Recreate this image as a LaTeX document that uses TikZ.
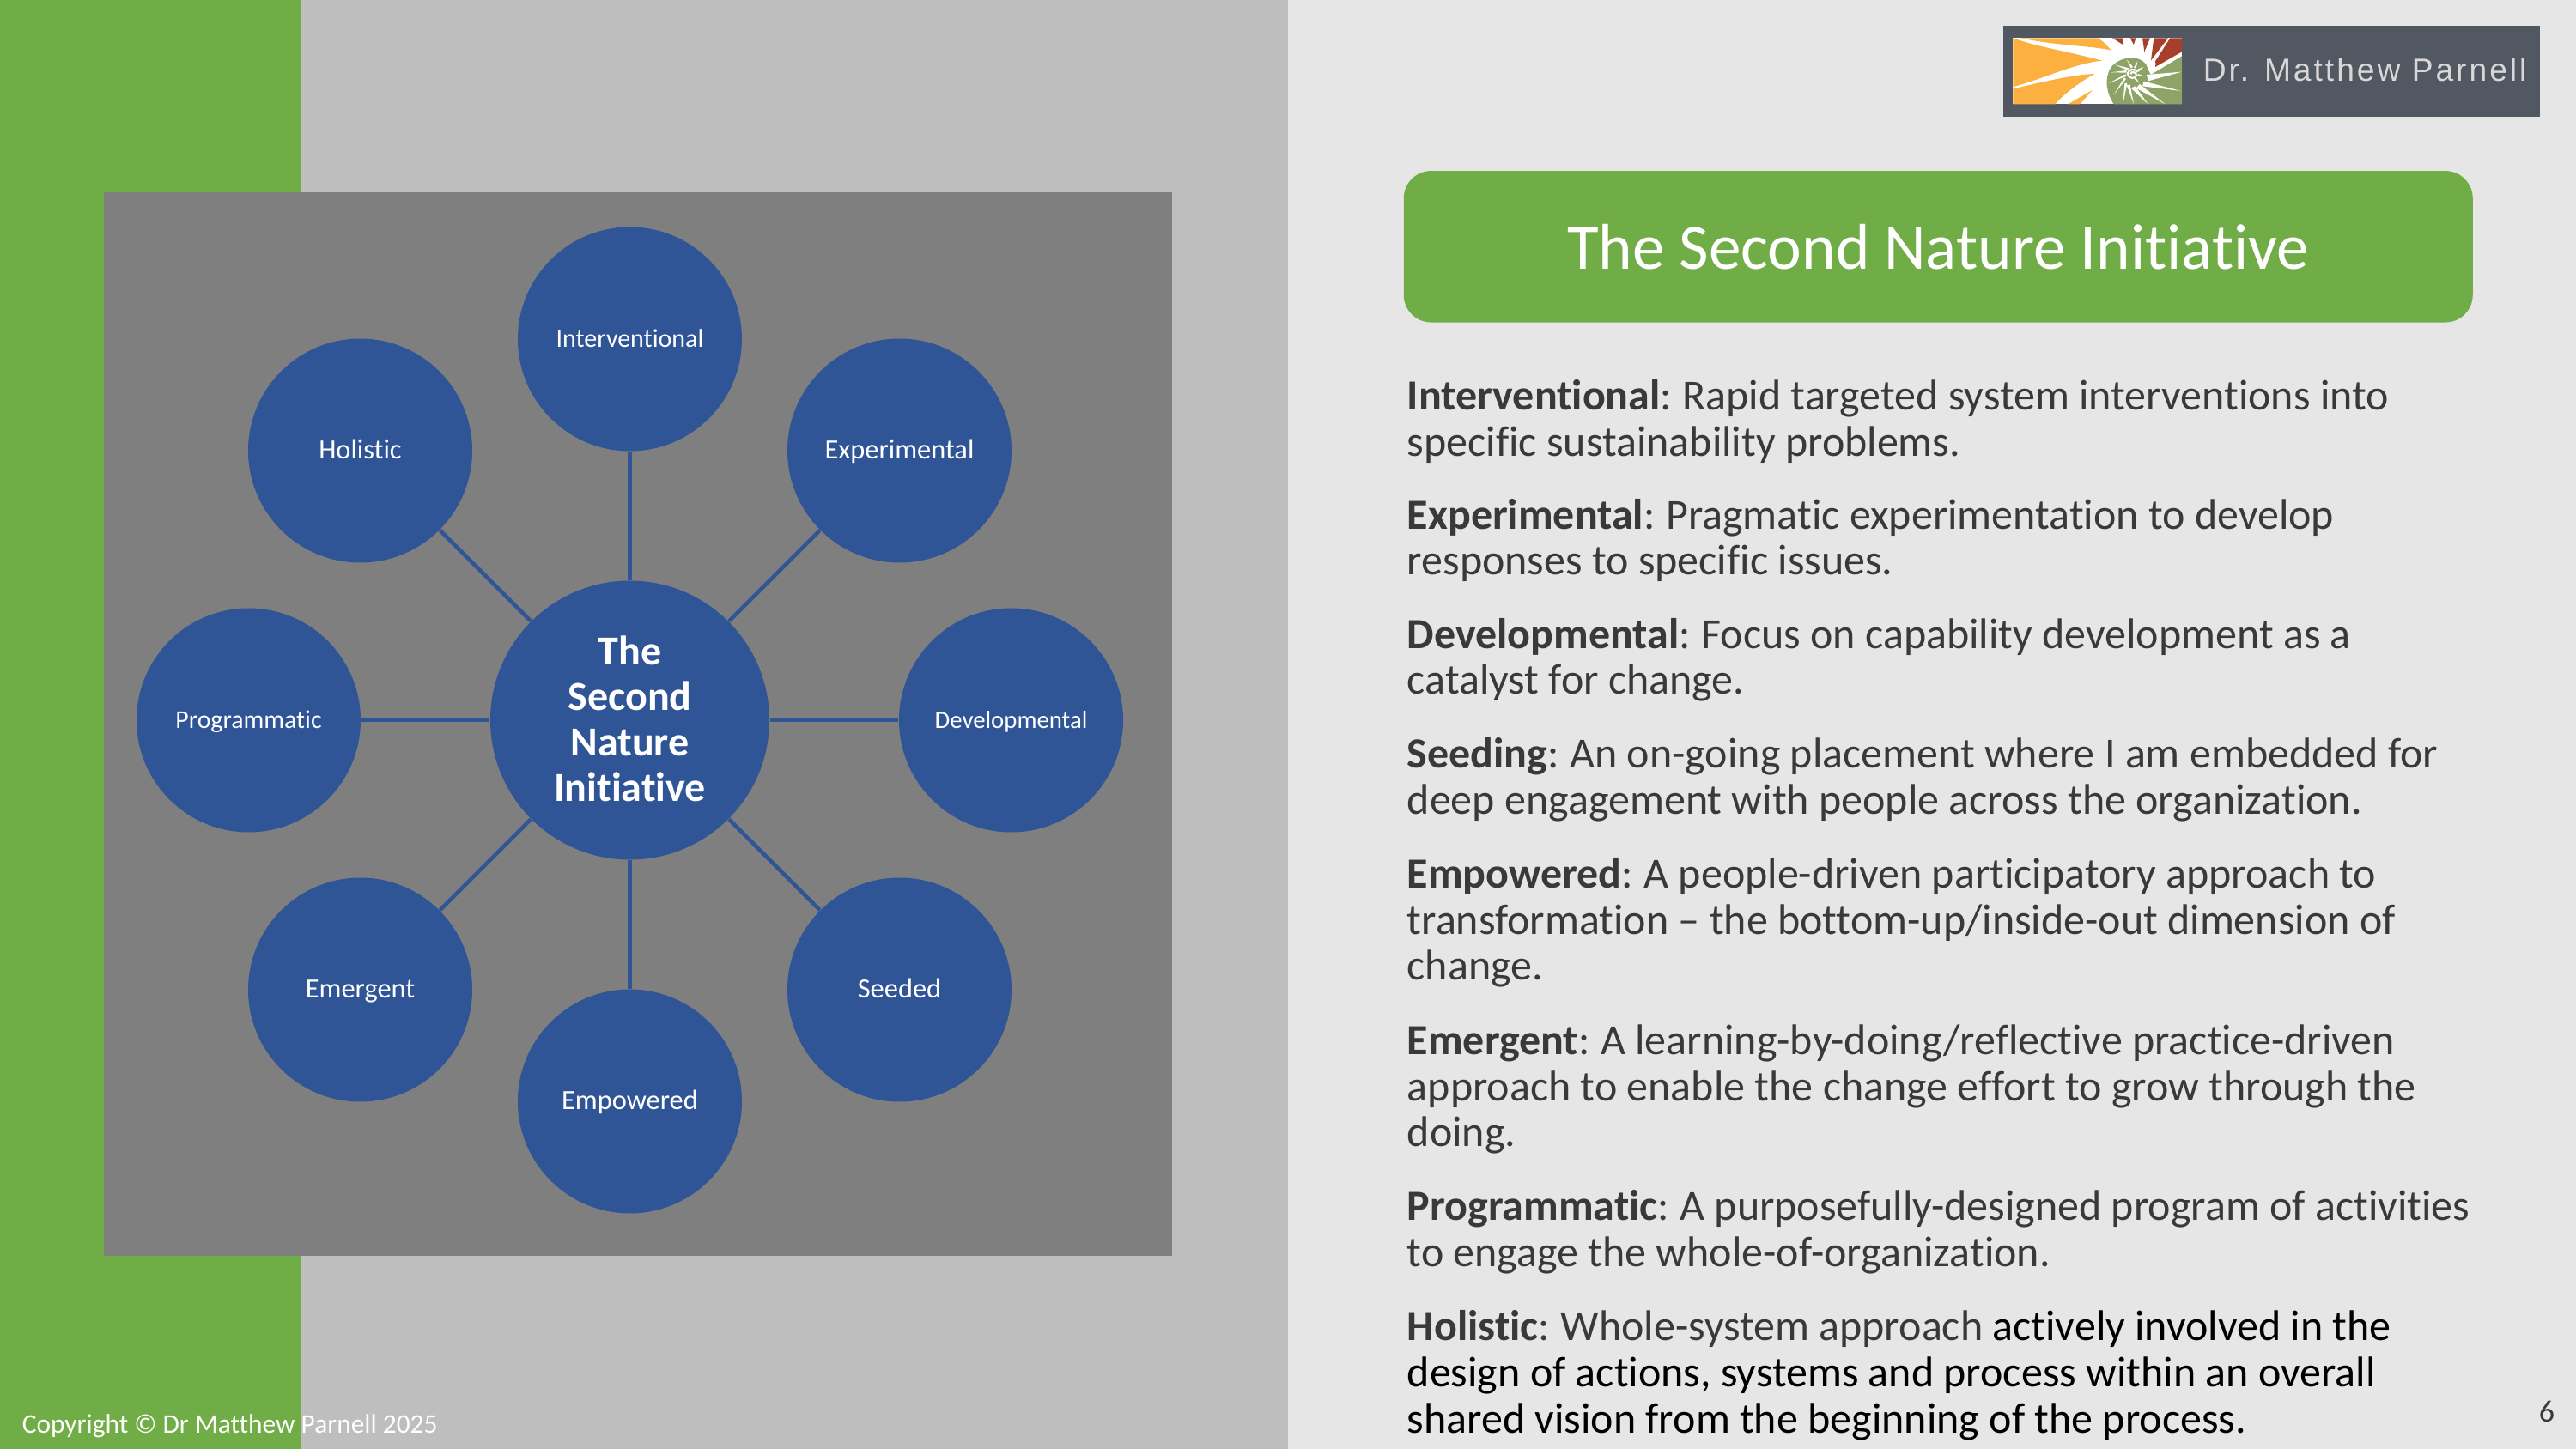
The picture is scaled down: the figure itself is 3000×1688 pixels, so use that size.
\documentclass[tikz,border=0pt]{standalone}
\usepackage{fontspec}
\setmainfont[Ligatures=NoCommon]{Carlito}
\newfontfamily\logofont{Liberation Sans}
\definecolor{grn}{HTML}{70AD47}
\definecolor{panel}{HTML}{E7E6E6}
\definecolor{midg}{HTML}{BEBEBE}
\definecolor{darkg}{HTML}{7F7F7F}
\definecolor{blu}{HTML}{2F5597}
\definecolor{txt}{HTML}{3B3838}
\definecolor{logob}{HTML}{515862}
\definecolor{logot}{HTML}{D9D7D7}
\definecolor{logoo}{HTML}{FBB040}
\definecolor{logor}{HTML}{A63F2B}
\definecolor{logog}{HTML}{8EA466}
\newcommand{\leadword}[1]{\textbf{#1}:\kern0.3pt\ }
\newcommand{\lab}[1]{\fontsize{#1}{9pt}\selectfont}
\tikzset{
 x=0.25pt,y=-0.25pt,
 outer/.style={circle,fill=blu,minimum size=261*0.25pt,inner sep=0pt,text=white,text height=6.75pt,text depth=2.15pt,font=\lab{8.1pt}},
 hub/.style={circle,fill=blu,minimum size=325*0.25pt,inner sep=0pt,text=white,align=center,font=\fontsize{12pt}{13.25pt}\selectfont\bfseries},
 spoke/.style={draw=blu,line width=1.15pt},
 body/.style={anchor=base west,inner sep=0pt,text=txt,font=\fontsize{12.5pt}{13.5pt}\selectfont},
 ray/.style={fill=white},
}
\begin{document}
\begin{tikzpicture}
\useasboundingbox (0,0) rectangle (3000,1688);
\fill[panel] (0,0) rectangle (3000,1688);
\fill[midg] (350,0) rectangle (1500,1688);
\fill[grn] (0,0) rectangle (350,1688);
\fill[darkg] (121,224) rectangle (1365,1463);
% hub and spokes
\node[hub] (hub) at (733.5,839) {The\\Second\\Nature\\Initiative\rule[-1pt]{0pt}{0pt}};
\node[outer,font=\lab{7.5pt}] (inter) at (733.5,395) {Interventional};
\node[outer] (exper) at (1047.5,525) {Experimental};
\node[outer,font=\lab{7.2pt}] (devel) at (1177.5,839) {Developmental};
\node[outer] (seed) at (1047.5,1153) {Seeded};
\node[outer] (empow) at (733.5,1283) {Empowered};
\node[outer] (emerg) at (419.5,1153) {Emergent};
\node[outer,font=\lab{7.45pt}] (progr) at (289.5,839) {Programmatic};
\node[outer] (holis) at (419.5,525) {Holistic};
\foreach \n in {inter,exper,devel,seed,empow,emerg,progr,holis}{\draw[spoke] (hub) -- (\n);}
% copyright
\node[anchor=base west,inner sep=0pt,text=white,font=\fontsize{7.85pt}{10pt}\selectfont] (copy) at (25,1669) {Copyright © Dr Matthew Parnell 2025};
% logo
\fill[logob] (2333,30) rectangle (2958,136);
\begin{scope}[shift={(2440,42)},x=0.08333pt,y=-0.08333pt]
\fill[white] (-287,7) rectangle (303,238);
\fill[logoo] (-260,7) -- (10,7) .. controls (30,20) and (45,35) .. (55,50) .. controls (0,35) and (-130,35) .. (-260,7) -- cycle;
\fill[logoo] (-287,7) -- (-275,11) .. controls (-200,38) and (-90,55) .. (25,86) .. controls (-70,95) and (-170,145) .. (-287,178) -- cycle;
\fill[logoo] (-287,184) .. controls (-180,160) and (-80,135) .. (-2,132) .. controls (-70,170) and (-115,210) .. (-140,238) -- (-287,238) -- cycle;
\fill[logoo] (-95,238) -- (-10,189) -- (-53,238) -- cycle;
\fill[logor] (60,7) -- (95,7) -- (100,32) -- cycle;
\fill[logor] (122,7) -- (142,7) -- (135,30) -- cycle;
\fill[logor] (165,7) -- (192,7) -- (172,55) -- cycle;
\fill[logor] (205,7) -- (255,7) -- (195,85) -- cycle;
\fill[logor] (262,7) -- (303,7) -- (303,55) -- (210,108) .. controls (212,100) and (212,95) .. (210,88) -- cycle;
\fill[logog] (303,70) -- (303,238) -- (65,238) .. controls (40,200) and (30,150) .. (55,110) .. controls (80,75) and (150,60) .. (178,100) .. controls (185,115) and (190,130) .. (195,135) -- cycle;
% rays on the shell
\fill[ray] (303,125) -- (180,135) -- (185,157) -- cycle;
\fill[ray] (300,192) -- (170,158) -- (165,175) -- cycle;
\fill[ray] (245,238) -- (155,168) -- (143,182) -- cycle;
\fill[ray] (185,238) -- (140,175) -- (125,182) -- cycle;
\fill[ray] (135,238) -- (122,170) -- (110,172) -- cycle;
\fill[ray] (97,238) -- (112,165) -- (103,165) -- cycle;
\fill[ray] (65,205) -- (108,150) -- (102,145) -- cycle;
\fill[ray] (48,165) -- (110,140) -- (106,133) -- cycle;
\fill[ray] (55,127) -- (110,128) -- (110,120) -- cycle;
\fill[ray] (68,100) -- (115,120) -- (118,112) -- cycle;
\fill[ray] (110,82) -- (125,112) -- (132,108) -- cycle;
\fill[ray] (148,88) -- (135,110) -- (143,113) -- cycle;
\fill[ray] (168,108) -- (145,118) -- (150,126) -- cycle;
\fill[ray] (172,140) -- (150,132) -- (149,140) -- cycle;
\fill[ray] (155,165) -- (142,145) -- (137,150) -- cycle;
\draw[white,line width=0.55pt] (148,125) .. controls (138,112) and (118,115) .. (114,130) .. controls (115,150) and (140,152) .. (145,137) .. controls (143,125) and (125,122) .. (124,133);
\end{scope}
\node[anchor=base west,inner sep=0pt,text=logot,font=\logofont\fontsize{9.3pt}{11pt}\selectfont] (logotext) at (2565,95) {\addfontfeature{LetterSpace=8}Dr. Matthew Parnell};
% title
\node[fill=grn,rounded corners=8pt,minimum width=1245*0.25pt,minimum height=176.5*0.25pt,inner sep=0pt,text=white,text height=15pt,text depth=1.65pt,font=\fontsize{18.8pt}{20pt}\selectfont] (title) at (2257.25,287.3) {The Second Nature Initiative};
% body
\node[body] (l1) at (1638,478) {\leadword{Interventional}Rapid targeted system interventions into};
\node[body] (l2) at (1638,532) {specific sustainability problems.};
\node[body] (l3) at (1638,616.5) {\leadword{Experimental}Pragmatic experimentation to develop};
\node[body] (l4) at (1638,670) {responses to specific issues.};
\node[body] (l5) at (1638,756) {\leadword{Developmental}Focus on capability development as a};
\node[body] (l6) at (1638,809) {catalyst for change.};
\node[body] (l7) at (1638,895) {\leadword{Seeding}An on-going placement where I am embedded for};
\node[body] (l8) at (1638,949) {deep engagement with people across the organization.};
\node[body] (l9) at (1638,1035) {\leadword{Empowered}A people-driven participatory approach to};
\node[body] (l10) at (1638,1089) {transformation – the bottom-up/inside-out dimension of};
\node[body] (l11) at (1638,1142) {change.};
\node[body] (l12) at (1638,1228) {\leadword{Emergent}A learning-by-doing/reflective practice-driven};
\node[body] (l13) at (1638,1282) {approach to enable the change effort to grow through the};
\node[body] (l14) at (1638,1336) {doing.};
\node[body] (l15) at (1638,1421) {\leadword{Programmatic}A purposefully-designed program of activities};
\node[body] (l16) at (1638,1475) {to engage the whole-of-organization.};
\node[body] (l17) at (1638,1561) {\leadword{Holistic}Whole-system approach \textcolor{black}{actively involved in the}};
\node[body,text=black] (l18) at (1638,1615) {design of actions, systems and process within an overall};
\node[body,text=black] (l19) at (1638,1669) {shared vision from the beginning of the process.};
\node[anchor=base,inner sep=0pt,text=txt,font=\fontsize{9pt}{11pt}\selectfont] (pg) at (2966,1656) {6};
\end{tikzpicture}
\end{document}
